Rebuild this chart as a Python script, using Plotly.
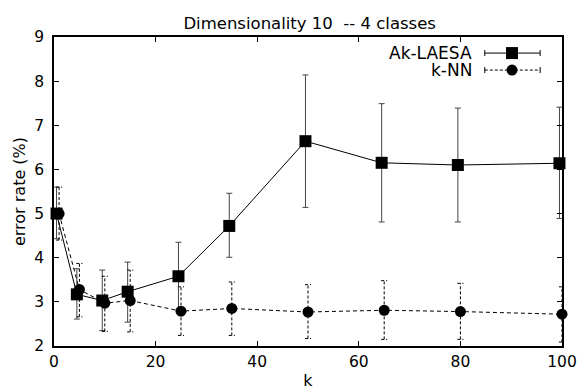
import plotly.graph_objects as go

# ---- data ----
ak_k = [0.5, 4.5, 9.5, 14.5, 24.5, 34.5, 49.5, 64.5, 79.5, 99.5]
ak_err = [5.0, 3.17, 3.03, 3.23, 3.58, 4.72, 6.64, 6.15, 6.10, 6.14]
ak_hi = [5.6, 3.75, 3.72, 3.90, 4.35, 5.46, 8.14, 7.49, 7.39, 7.41]
ak_lo = [4.43, 2.61, 2.35, 2.54, 2.82, 4.01, 5.14, 4.81, 4.81, 4.89]

knn_k = [1, 5, 10, 15, 25, 35, 50, 65, 80, 100]
knn_err = [5.0, 3.28, 2.97, 3.03, 2.79, 2.85, 2.77, 2.81, 2.78, 2.72]
knn_hi = [5.6, 3.87, 3.58, 3.72, 3.34, 3.45, 3.39, 3.48, 3.42, 3.34]
knn_lo = [4.4, 2.66, 2.33, 2.32, 2.24, 2.24, 2.17, 2.15, 2.15, 2.09]

x_ticks = [0, 20, 40, 60, 80, 100]
y_ticks = [2, 3, 4, 5, 6, 7, 8, 9]

FONT = "DejaVu Sans, Liberation Sans, Arial, sans-serif"

fig = go.Figure()

# Ak-LAESA: solid line, squares, solid error bars
fig.add_trace(go.Scatter(
    x=ak_k, y=ak_err, mode="lines+markers", name="Ak-LAESA",
    line=dict(color="black", width=1),
    marker=dict(symbol="square", size=12, color="black"),
    error_y=dict(type="data", symmetric=False,
                 array=[h - v for h, v in zip(ak_hi, ak_err)],
                 arrayminus=[v - l for v, l in zip(ak_err, ak_lo)],
                 color="#444444", thickness=1, width=3),
    cliponaxis=False, showlegend=False,
))

# k-NN dashed error bars (built from data arrays)
cap = 0.6
ex, ey = [], []
for k, lo, hi in zip(knn_k, knn_lo, knn_hi):
    ex += [k, k, None, k - cap, k + cap, None, k - cap, k + cap, None]
    ey += [lo, hi, None, hi, hi, None, lo, lo, None]
fig.add_trace(go.Scatter(
    x=ex, y=ey, mode="lines", line=dict(color="black", width=1, dash="3px,2px"),
    hoverinfo="skip", showlegend=False, cliponaxis=False,
))

fig.add_trace(go.Scatter(
    x=knn_k, y=knn_err, mode="lines+markers", name="k-NN",
    line=dict(color="black", width=1, dash="4px,3px"),
    marker=dict(symbol="circle", size=11, color="black"),
    cliponaxis=False, showlegend=False,
))

# ---- custom gnuplot-style legend (text left, sample right) ----
legend_rows = [("Ak-LAESA", "solid", "square", 0.948), ("k-NN", "dash", "circle", 0.893)]
lx0, lx1, lxm, ltext = 0.848, 0.957, 0.9016, 0.8268
shapes = []
annotations = []
for label, dash, sym, yy in legend_rows:
    annotations.append(dict(x=ltext, y=yy, xref="paper", yref="paper", text=label,
                            showarrow=False, xanchor="right", yanchor="middle", height=14,
                            font=dict(family=FONT, size=17, color="black")))
    shapes.append(dict(type="line", xref="paper", yref="paper", x0=lx0, x1=lx1, y0=yy, y1=yy,
                       line=dict(color="black", width=1, dash=dash if dash == "solid" else "3px,2px")))
    for xe in (lx0, lx1):
        shapes.append(dict(type="line", xref="paper", yref="paper", xsizemode="pixel", ysizemode="pixel",
                           xanchor=xe, yanchor=yy, x0=0, x1=0, y0=-3, y1=3,
                           line=dict(color="black", width=1)))
    shapes.append(dict(type="rect" if sym == "square" else "circle", xref="paper", yref="paper",
                       xsizemode="pixel", ysizemode="pixel", xanchor=lxm, yanchor=yy,
                       x0=-6 if sym == "square" else -5.5, x1=6 if sym == "square" else 5.5,
                       y0=-6 if sym == "square" else -5.5, y1=6 if sym == "square" else 5.5,
                       fillcolor="black", line=dict(color="black", width=0)))

axis_common = dict(showgrid=False, zeroline=False, showline=True, linecolor="black", linewidth=1.5,
                   mirror="ticks", ticks="inside", ticklen=5, tickwidth=1, tickcolor="black",
                   automargin=False,
                   tickfont=dict(family=FONT, size=15.5, color="black"))

fig.update_layout(
    width=581, height=390,
    margin=dict(l=54, r=19, t=37, b=44),
    paper_bgcolor="white", plot_bgcolor="white",
    font=dict(family=FONT, color="black"),
    title=dict(text="Dimensionality 10  -- 4 classes", x=0.533, xanchor="center",
               y=0.94, yanchor="middle", font=dict(family=FONT, size=16.5, color="black")),
    xaxis=dict(range=[0, 100], tickvals=x_ticks, ticklabelstandoff=1,
               title=dict(text="k", font=dict(family=FONT, size=16), standoff=9), **axis_common),
    yaxis=dict(range=[2, 9], tickvals=y_ticks, ticklabelstandoff=5,
               title=dict(text="error rate (%)", font=dict(family=FONT, size=16), standoff=5), **axis_common),
    shapes=shapes, annotations=annotations, showlegend=False,
)

fig.write_html("out.html", config={"displayModeBar": False},
               post_script="document.body.style.margin='0';document.body.style.padding='0';")
